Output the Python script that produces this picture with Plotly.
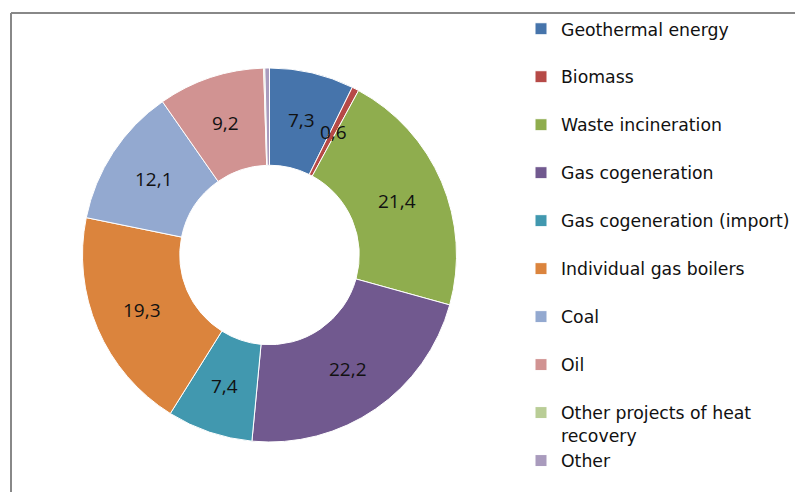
import math
import plotly.graph_objects as go

categories = ["Geothermal energy", "Biomass", "Waste incineration", "Gas cogeneration",
              "Gas cogeneration (import)", "Individual gas boilers", "Coal", "Oil",
              "Other projects of heat recovery", "Other"]
legend_labels = ["Geothermal energy<br> ", "Biomass<br> ", "Waste incineration<br> ",
                 "Gas cogeneration<br> ", "Gas cogeneration (import)<br> ",
                 "Individual gas boilers<br> ", "Coal<br> ", "Oil<br> ",
                 "Other projects of heat<br>recovery", "Other"]
values = [7.3, 0.6, 21.4, 22.2, 7.4, 19.3, 12.1, 9.2, 0.1, 0.4]
value_labels = ["7,3", "0,6", "21,4", "22,2", "7,4", "19,3", "12,1", "9,2", "", ""]
colors = ["#4674AB", "#B64A47", "#8FAD4E", "#71598F", "#4198AF", "#DB843D",
          "#93A9D0", "#D19392", "#B9CD96", "#A99BBD"]

# page body has an 8px margin; lay out the figure in the visible area
OFF = 8
W, H = 803 - OFF, 492 - OFF
HOLE = 0.48

# pie bounds (screen px) -> paper domain
x0, x1, y0, y1 = 82 - OFF, 457 - OFF, 68 - OFF, 442 - OFF
dom_x = [x0 / W, x1 / W]
dom_y = [(H - y1) / H, (H - y0) / H]

fig = go.Figure(go.Pie(
    labels=legend_labels,
    values=values,
    textinfo="none",
    marker=dict(colors=colors, line=dict(color="white", width=1)),
    hole=HOLE,
    sort=False,
    direction="clockwise",
    rotation=0,
    domain=dict(x=dom_x, y=dom_y),
    hoverinfo="label+value",
))

# data labels on the ring's mid-line, at each slice's middle angle
total = sum(values)
cx, cy = (x0 + x1) / 2, (y0 + y1) / 2
r_mid = (x1 - x0) / 2 * (1 + HOLE) / 2
annotations = []
for i, lab in enumerate(value_labels):
    if not lab:
        continue
    ang = 2 * math.pi * (sum(values[:i]) + values[i] / 2) / total
    px = cx + r_mid * math.sin(ang)
    py = cy - r_mid * math.cos(ang)
    annotations.append(dict(x=px / W, y=(H - py) / H, xref="paper", yref="paper",
                            xanchor="center", yanchor="middle",
                            text=lab, showarrow=False,
                            font=dict(family="Open Sans", size=19, color="#111111")))

fig.update_layout(
    width=W, height=H,
    margin=dict(l=0, r=0, t=0, b=0),
    paper_bgcolor="white",
    plot_bgcolor="white",
    showlegend=True,
    annotations=annotations,
    legend=dict(x=(521 - OFF) / W, xanchor="left", y=1 - 3 / H, yanchor="top",
                font=dict(family="DejaVu Sans", size=17.3, color="#111111"),
                valign="top", bgcolor="rgba(0,0,0,0)"),
    shapes=[
        dict(type="line", xref="paper", yref="paper", x0=(11 - OFF) / W, x1=1,
             y0=1 - (13 - OFF) / H, y1=1 - (13 - OFF) / H,
             line=dict(color="#888888", width=2)),
        dict(type="line", xref="paper", yref="paper", x0=(11 - OFF) / W, x1=(11 - OFF) / W,
             y0=0, y1=1 - (13 - OFF) / H,
             line=dict(color="#888888", width=2)),
    ],
)

fig.write_html("out.html")
